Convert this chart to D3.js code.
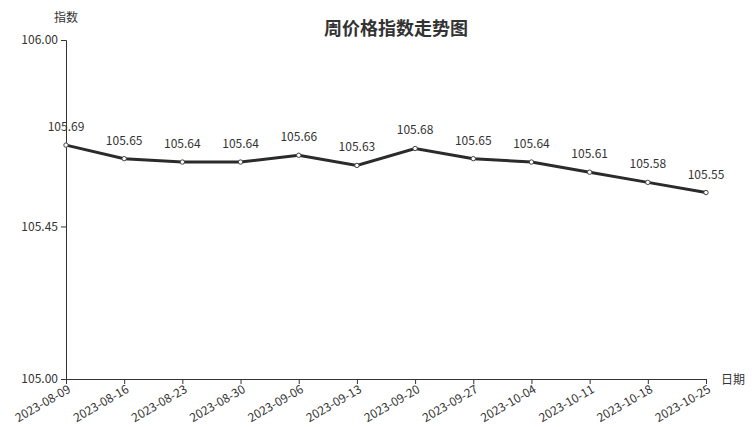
<!DOCTYPE html>
<html>
<head>
<meta charset="utf-8">
<script src="https://cdn.jsdelivr.net/npm/d3@7"></script>
<style>
  body { margin: 0; background: #fff; }
  svg { font-family: "Noto Sans CJK SC", "Noto Sans", sans-serif; }
</style>
</head>
<body>
<div id="chart"></div>
<script>
var dates = ['2023-08-09', '2023-08-16', '2023-08-23', '2023-08-30', '2023-09-06', '2023-09-13',
  '2023-09-20', '2023-09-27', '2023-10-04', '2023-10-11', '2023-10-18', '2023-10-25'];
var values = [105.69, 105.65, 105.64, 105.64, 105.66, 105.63, 105.68, 105.65, 105.64, 105.61, 105.58, 105.55];
var yTicks = [105.00, 105.45, 106.00];

var width = 752, height = 427;
var margin = {top: 40, right: 46, bottom: 48, left: 66};

var svg = d3.select('#chart').append('svg')
  .attr('width', width)
  .attr('height', height);

var x = d3.scalePoint().domain(dates).range([margin.left, width - margin.right]);
var y = d3.scaleLinear().domain([105, 106]).range([height - margin.bottom, margin.top]);

svg.append('text')
  .attr('x', 396).attr('y', 35)
  .attr('text-anchor', 'middle')
  .style('font-size', '18px').style('font-weight', 'bold').attr('fill', '#333')
  .text('周价格指数走势图');

var yAxis = svg.append('g')
  .attr('transform', 'translate(' + margin.left + ',0)')
  .call(d3.axisLeft(y).tickValues(yTicks).tickFormat(d3.format('.2f')).tickSizeOuter(0).tickSize(5));
var xAxis = svg.append('g')
  .attr('transform', 'translate(0,' + (height - margin.bottom) + ')')
  .call(d3.axisBottom(x).tickSizeOuter(0).tickSize(5));

[yAxis, xAxis].forEach(function(g) {
  g.selectAll('path, line').attr('stroke', '#333');
  g.selectAll('text').attr('fill', '#333').style('font-size', '12px')
    .style('font-family', '"Noto Sans CJK SC", "Noto Sans", sans-serif');
});

// rotated date labels, right end hanging off the tick
xAxis.selectAll('.tick text')
  .attr('x', 0).attr('y', 0)
  .attr('dy', '0.35em')
  .attr('text-anchor', 'end')
  .attr('transform', 'translate(3,9) rotate(-30)');

svg.append('text')
  .attr('x', 54).attr('y', 22)
  .style('font-size', '12px').attr('fill', '#333')
  .text('指数');
svg.append('text')
  .attr('x', 721).attr('y', 384)
  .style('font-size', '12px').attr('fill', '#333')
  .text('日期');

var line = d3.line()
  .x(function(d, i) { return x(dates[i]); })
  .y(function(d) { return y(d); });

svg.append('path')
  .datum(values)
  .attr('fill', 'none')
  .attr('stroke', '#2b2b2b')
  .attr('stroke-width', 3)
  .attr('d', line);

svg.selectAll('circle.pt')
  .data(values)
  .enter().append('circle')
  .attr('class', 'pt')
  .attr('cx', function(d, i) { return x(dates[i]); })
  .attr('cy', function(d) { return y(d); })
  .attr('r', 2.2)
  .attr('fill', '#fff')
  .attr('stroke', '#444')
  .attr('stroke-width', 1);

svg.selectAll('text.lbl')
  .data(values)
  .enter().append('text')
  .attr('class', 'lbl')
  .attr('x', function(d, i) { return x(dates[i]); })
  .attr('y', function(d) { return y(d) - 14; })
  .attr('text-anchor', 'middle')
  .style('font-size', '12px').attr('fill', '#333')
  .text(function(d) { return d.toFixed(2); });
</script>
</body>
</html>
